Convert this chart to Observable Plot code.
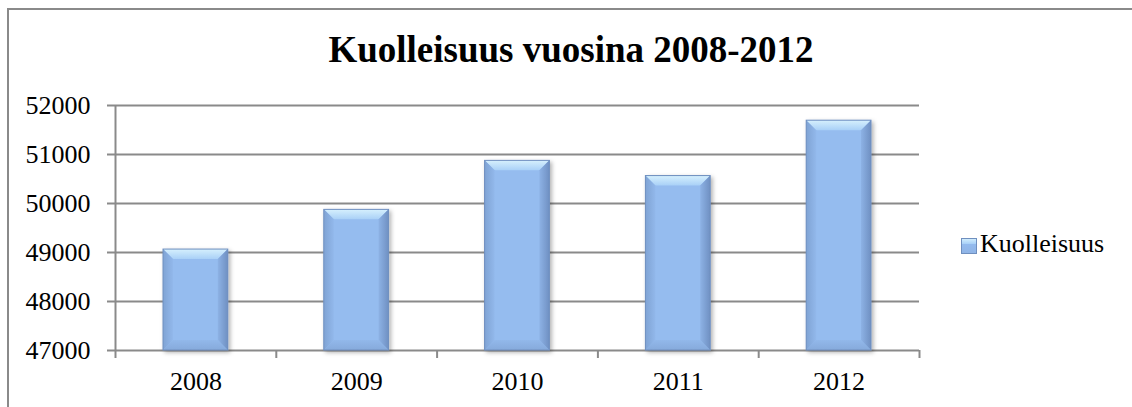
<!DOCTYPE html>
<html><head><meta charset="utf-8">
<script src="https://cdn.jsdelivr.net/npm/d3@7"></script>
<script src="https://cdn.jsdelivr.net/npm/@observablehq/plot@0.6"></script>
<style>
html,body{margin:0;padding:0;background:#fff;overflow:hidden;}
#wrap{position:relative;width:1132px;height:407px;overflow:hidden;font-family:"Liberation Serif","Times New Roman",serif;color:#000;}
#frame{position:absolute;left:7px;top:8px;width:1300px;height:600px;border:2px solid #8a8a8a;box-sizing:border-box;}
#title{position:absolute;left:0;width:1142px;top:31px;text-align:center;font-weight:bold;font-size:37px;line-height:37px;white-space:nowrap;}
#chart{position:absolute;left:0;top:0;}
#swatch{position:absolute;left:961px;top:238px;width:16px;height:16px;box-sizing:border-box;border:1px solid #6f8fbf;
  background:linear-gradient(180deg,#d0ecfc 0%,#a8d0f7 35%,#94bbee 36%,#8fb4e6 100%);}
#legtext{position:absolute;left:980px;top:231px;font-size:26px;line-height:26px;white-space:nowrap;}
</style>
</head><body>
<div id="wrap">
  <div id="frame"></div>
  <div id="chart"></div>
  <div id="title">Kuolleisuus vuosina 2008-2012</div>
  <div id="swatch"></div>
  <div id="legtext">Kuolleisuus</div>
</div>
<script>
const years = [2008, 2009, 2010, 2011, 2012];
const values = [49060, 49870, 50870, 50560, 51690];
const yTicks = [47000, 48000, 49000, 50000, 51000, 52000];
const seriesName = "Kuolleisuus";

const data = years.map((year, i) => ({year, value: values[i]}));
const boundaries = years.map(y => y - 0.5).concat([years[years.length - 1] + 0.5]);
const yMin = yTicks[0], yMax = yTicks[yTicks.length - 1];

const ns = "http://www.w3.org/2000/svg";
function poly(g, pts, fill) {
  const p = document.createElementNS(ns, "polygon");
  p.setAttribute("points", pts.map(q => q.join(",")).join(" "));
  p.setAttribute("fill", fill);
  g.appendChild(p);
}
function bevel(index, scales, vals, dimensions, context, next) {
  const g = next(index, scales, vals, dimensions, context);
  g.setAttribute("filter", "url(#barShadow)");
  const rects = Array.from(g.querySelectorAll("rect"));
  rects.forEach(r => {
    const x = +r.getAttribute("x"), y = +r.getAttribute("y");
    const w = +r.getAttribute("width"), h = +r.getAttribute("height");
    const b = 10;
    const bg = document.createElementNS(ns, "g");
    poly(bg, [[x, y], [x + w, y], [x + w - b, y + b], [x + b, y + b]], "url(#topGrad)");
    poly(bg, [[x, y + h], [x + w, y + h], [x + w - b, y + h - b], [x + b, y + h - b]], "url(#botGrad)");
    poly(bg, [[x, y], [x + b, y + b], [x + b, y + h - b], [x, y + h]], "url(#leftGrad)");
    poly(bg, [[x + w, y], [x + w - b, y + b], [x + w - b, y + h - b], [x + w, y + h]], "url(#rightGrad)");
    const o = document.createElementNS(ns, "rect");
    o.setAttribute("x", x); o.setAttribute("y", y);
    o.setAttribute("width", w); o.setAttribute("height", h);
    o.setAttribute("fill", "none"); o.setAttribute("stroke", "#6f8fbf"); o.setAttribute("stroke-width", "1");
    bg.appendChild(o);
    r.after(bg);
  });
  return g;
}

const axisColor = "#8a8a8a";
const font = "'Liberation Serif','Times New Roman',serif";
const chart = Plot.plot({
  width: 1132,
  height: 407,
  marginLeft: 115,
  marginRight: 213,
  marginTop: 105,
  marginBottom: 57,
  style: {background: "transparent", fontFamily: font, fontSize: "26px", color: "#000", overflow: "visible"},
  x: {domain: [boundaries[0], boundaries[boundaries.length - 1]], label: null},
  y: {domain: [yMin, yMax], label: null},
  marks: [
    Plot.ruleY(yTicks, {stroke: axisColor, strokeWidth: 2, insetLeft: -8}),
    Plot.ruleX([boundaries[0]], {y1: () => yMin, y2: () => yMax, stroke: axisColor, strokeWidth: 2}),
    Plot.ruleX(boundaries, {y1: () => yMin, y2: () => yMin, insetBottom: -8, stroke: axisColor, strokeWidth: 2}),
    Plot.rectY(data, {
      x1: d => d.year - 0.5, x2: d => d.year + 0.5,
      y1: () => yMin, y2: "value",
      insetLeft: 48, insetRight: 48,
      fill: "#95bcef",
      render: bevel
    }),
    Plot.axisY(yTicks, {tickSize: 0, tickPadding: 25, tickFormat: d => String(d), fontSize: 26, fontFamily: font, label: null, fill: "#000"}),
    Plot.axisX(years, {tickSize: 0, tickPadding: 21, tickFormat: d => String(d), fontSize: 26, fontFamily: font, label: null, fill: "#000"})
  ]
});

const defs = d3.select(chart).insert("defs", ":first-child");
function lin(id, x1, y1, x2, y2, stops) {
  const gr = defs.append("linearGradient").attr("id", id)
    .attr("x1", x1).attr("y1", y1).attr("x2", x2).attr("y2", y2);
  stops.forEach(([o, c]) => gr.append("stop").attr("offset", o).attr("stop-color", c));
}
lin("topGrad", 0, 0, 0, 1, [[0, "#d6f0fd"], [1, "#a9d0f7"]]);
lin("botGrad", 0, 0, 0, 1, [[0, "#92b8ea"], [1, "#86aadb"]]);
lin("leftGrad", 0, 0, 1, 0, [[0, "#7fa3d4"], [1, "#92b8eb"]]);
lin("rightGrad", 0, 0, 1, 0, [[0, "#8db2e5"], [1, "#6f90c2"]]);
const f = defs.append("filter").attr("id", "barShadow").attr("x", "-20%").attr("y", "-10%").attr("width", "150%").attr("height", "130%");
f.append("feDropShadow").attr("dx", 2).attr("dy", 2).attr("stdDeviation", 2).attr("flood-color", "#000").attr("flood-opacity", 0.3);

document.getElementById("chart").appendChild(chart);
</script>
</body></html>
